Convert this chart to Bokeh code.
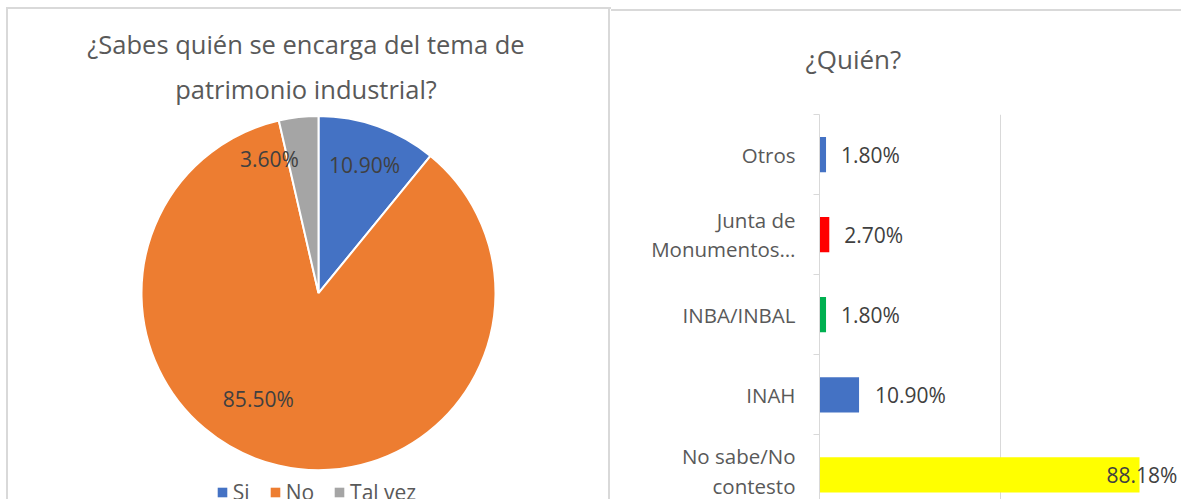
import math
from bokeh.plotting import figure
from bokeh.models import Range1d, FixedTicker, ColumnDataSource, Title
from bokeh.layouts import row
from bokeh.core.properties import value
from bokeh.embed import file_html
from bokeh.resources import INLINE

# ---------------- data ----------------
pie_title_lines = ["¿Sabes quién se encarga del tema de", "patrimonio industrial?"]
pie_categories = ["Si", "No", "Tal vez"]
pie_values = [10.9, 85.5, 3.6]
pie_labels = ["10.90%", "85.50%", "3.60%"]
pie_colors = ["#4472C4", "#ED7D31", "#A5A5A5"]

bar_title = "¿Quién?"
bar_categories = ["No sabe/No\ncontesto", "INAH", "INBA/INBAL", "Junta de\nMonumentos…", "Otros"]
bar_values = [88.18, 10.9, 1.8, 2.7, 1.8]
bar_labels = ["88.18%", "10.90%", "1.80%", "2.70%", "1.80%"]
bar_colors = ["#FFFF00", "#4472C4", "#00B050", "#FF0000", "#4472C4"]
bar_gridlines = [50, 100]

FONT = "Open Sans"
TXT = "#595959"
LBL = "#404040"
BORDER = "#D9D9D9"
G = "linear-gradient(%s,%s)" % (BORDER, BORDER)

TOTAL_H = 499
FRAME_TOP = 112

# ---------------- pie ----------------
W1 = 611
FH1 = TOTAL_H - FRAME_TOP
p1 = figure(width=W1, height=TOTAL_H, x_range=Range1d(0, W1), y_range=Range1d(0, FH1),
            min_border_top=FRAME_TOP, min_border_left=0, min_border_right=0, min_border_bottom=0,
            toolbar_location=None, output_backend="svg")
p1.title = None
p1.axis.visible = False
p1.grid.visible = False
p1.outline_line_color = None
p1.border_fill_alpha = 0
p1.background_fill_alpha = 0
p1.styles = {"background": ", ".join([
    G + " 6px 7px / 2px 100% no-repeat",
    G + " 6px 7px / 605px 2px no-repeat",
    G + " 608px 7px / 2px 100% no-repeat",
])}

# title lines: the first one added sits closest to the plot area
for line, standoff in zip(reversed(pie_title_lines), [17, 1]):
    p1.add_layout(Title(text=line, align="center", text_font=FONT, text_font_size="25.5px",
                        text_font_style="normal", text_color=TXT, standoff=standoff,
                        offset=4), "above")

cx, cy, R = 318, 207.5, 177
total = sum(pie_values)
starts, ends, mids = [], [], []
acc = 0.0
for v in pie_values:
    s = acc / total
    acc += v
    e = acc / total
    starts.append(math.pi / 2 - 2 * math.pi * s)
    ends.append(math.pi / 2 - 2 * math.pi * e)
    mids.append(math.pi / 2 - 2 * math.pi * (s + e) / 2)

src = ColumnDataSource(dict(start=starts, end=ends, color=pie_colors, cat=pie_categories))
p1.wedge(x=cx, y=cy, radius=R, start_angle="start", end_angle="end", direction="clock",
         fill_color="color", line_color="white", line_width=2, source=src)

lr = 0.775 * R
lab_src = ColumnDataSource(dict(
    x=[cx + lr * math.cos(m) for m in mids],
    y=[cy + lr * math.sin(m) for m in mids],
    text=pie_labels,
    xo=[0, -29, -33.5],
    yo=[0, -27, 2],
))
p1.text(x="x", y="y", text="text", x_offset="xo", y_offset="yo", source=lab_src,
        text_align="center", text_baseline="middle", text_font=value(FONT),
        text_font_size="21px", text_color=LBL)

nan = float("nan")
leg_src = ColumnDataSource(dict(x=[nan] * 3, y=[nan] * 3, color=pie_colors, cat=pie_categories))
p1.rect(x="x", y="y", width=1, height=1, fill_color="color", line_color=None,
        source=leg_src, legend_field="cat")

lg = p1.legend[0]
lg.location = (215.8, -7.3)
lg.orientation = "horizontal"
lg.padding = 0
lg.margin = 0
lg.spacing = 19
lg.label_standoff = 5
lg.glyph_width = 12
lg.glyph_height = 12
lg.label_width = 0
lg.label_text_font = FONT
lg.label_text_font_size = "21px"
lg.label_text_color = TXT
lg.background_fill_alpha = 0
lg.border_line_alpha = 0

# ---------------- bars ----------------
W2 = 1181 - W1
AX_LEFT = 208
px_per_unit = 3.629
frame_w = W2 - AX_LEFT
cat_px = 80.5
frame_h = TOTAL_H - FRAME_TOP
y_top = len(bar_categories) - 0.5
p2 = figure(width=W2, height=TOTAL_H,
            x_range=Range1d(0, frame_w / px_per_unit),
            y_range=Range1d(y_top - frame_h / cat_px, y_top),
            min_border_left=AX_LEFT, min_border_top=FRAME_TOP, min_border_right=0,
            min_border_bottom=0, toolbar_location=None, output_backend="svg")
p2.outline_line_color = None
p2.border_fill_alpha = 0
p2.background_fill_alpha = 0
p2.styles = {"background": G + " 0 9px / 100% 2px no-repeat"}
p2.xaxis.visible = False
p2.ygrid.visible = False
p2.xgrid.ticker = FixedTicker(ticks=bar_gridlines)
p2.xgrid.grid_line_color = BORDER

p2.title.text = bar_title
p2.title.align = "left"
p2.title.offset = -14
p2.title.text_font = FONT
p2.title.text_font_size = "26px"
p2.title.text_font_style = "normal"
p2.title.text_color = TXT
p2.title.standoff = 76

idx = list(range(len(bar_categories)))
yax = p2.yaxis[0]
yax.ticker = FixedTicker(ticks=idx, minor_ticks=[i - 0.5 for i in idx] + [idx[-1] + 0.5])
yax.major_label_overrides = {i: c for i, c in zip(idx, bar_categories)}
yax.axis_line_color = BORDER
yax.major_tick_line_color = None
yax.major_tick_out = 0
yax.major_tick_in = 0
yax.minor_tick_line_color = BORDER
yax.minor_tick_out = 6
yax.minor_tick_in = 0
yax.major_label_standoff = 18
yax.major_label_text_font = FONT
yax.major_label_text_font_size = "20.5px"
yax.major_label_text_color = TXT
yax.major_label_text_line_height = 1.04

bsrc = ColumnDataSource(dict(y=idx, v=bar_values, color=bar_colors, text=bar_labels,
                             xo=[-33, 16, 15, 15, 15]))
p2.hbar(y="y", left=0, right="v", height=0.44, fill_color="color", line_color=None, source=bsrc)
p2.text(x="v", y="y", text="text", x_offset="xo", source=bsrc, text_align="left",
        text_baseline="middle", text_font=value(FONT), text_font_size="21px", text_color=LBL)

layout = row(p1, p2)
open("out.html", "w").write(file_html(layout, INLINE))
